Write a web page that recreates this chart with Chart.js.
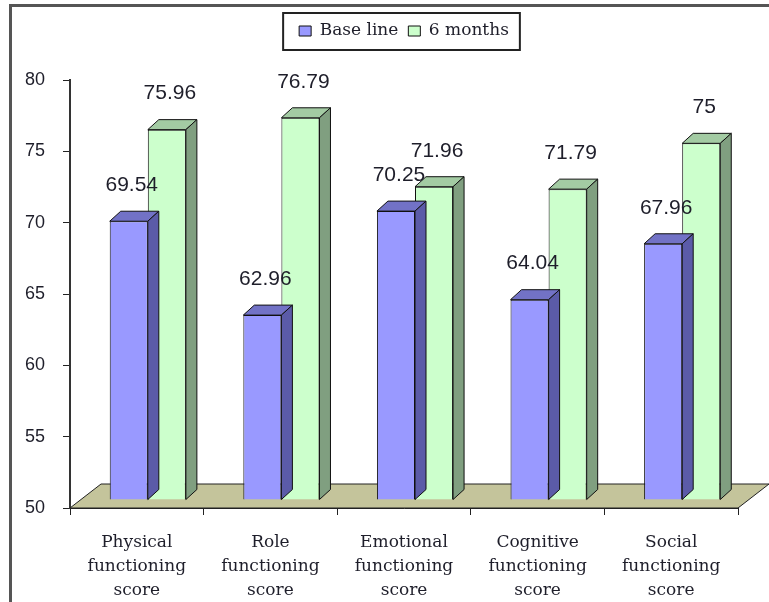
<!DOCTYPE html>
<html>
<head>
<meta charset="utf-8">
<script src="https://cdn.jsdelivr.net/npm/chart.js@4.4.0/dist/chart.umd.min.js"></script>
<style>
    body { margin: 0; background: #fff; }
</style>
</head>
<body>
<canvas id="chartContainer" width="769" height="602"></canvas>
<script>
// chart data
const categories = [
    ['Physical', 'functioning', 'score'],
    ['Role', 'functioning', 'score'],
    ['Emotional', 'functioning', 'score'],
    ['Cognitive', 'functioning', 'score'],
    ['Social', 'functioning', 'score']
];
const seriesNames = ['Base line', '6 months'];
const baseLine = [69.54, 62.96, 70.25, 64.04, 67.96];
const sixMonths = [75.96, 76.79, 71.96, 71.79, 75];
const yMin = 50;
const yMax = 80;
const yStep = 5;

// fake 3d look
const DEPTH_X = 11, DEPTH_Y = 10;     // bar depth
const SHIFT_X = 11, SHIFT_Y = -8;     // bars stand a bit back on the floor
const FLOOR_X = 31, FLOOR_Y = 24;     // floor depth
const faces = [
    { top: '#7272c6', side: '#5b5ba8' },
    { top: '#a3cba3', side: '#809f80' }
];
const textColor = '#1e1e2a';

const threeD = {
    id: 'threeD',
    beforeDraw(chart) {
        // outer frame (left + top)
        const ctx = chart.ctx;
        ctx.save();
        ctx.strokeStyle = '#555';
        ctx.lineWidth = 3;
        ctx.beginPath();
        ctx.moveTo(10.5, chart.height);
        ctx.lineTo(10.5, 5.5);
        ctx.lineTo(chart.width, 5.5);
        ctx.stroke();
        ctx.restore();
    },
    beforeDatasetsDraw(chart) {
        const ctx = chart.ctx;
        const a = chart.chartArea;
        ctx.save();
        ctx.beginPath();
        ctx.moveTo(a.left, a.bottom);
        ctx.lineTo(a.right, a.bottom);
        ctx.lineTo(a.right + FLOOR_X, a.bottom - FLOOR_Y);
        ctx.lineTo(a.left + FLOOR_X, a.bottom - FLOOR_Y);
        ctx.closePath();
        ctx.fillStyle = '#c4c49b';
        ctx.fill();
        ctx.strokeStyle = '#222';
        ctx.lineWidth = 1;
        ctx.stroke();
        ctx.restore();

        ctx.save();
        ctx.translate(SHIFT_X, SHIFT_Y);
    },
    afterDatasetDraw(chart, args) {
        const ctx = chart.ctx;
        const f = faces[args.index];
        ctx.save();
        ctx.lineWidth = 1;
        ctx.strokeStyle = '#111';
        args.meta.data.forEach(bar => {
            const p = bar.getProps(['x', 'y', 'base', 'width'], true);
            const l = p.x - p.width / 2, r = p.x + p.width / 2;
            // top
            ctx.beginPath();
            ctx.moveTo(l, p.y);
            ctx.lineTo(r, p.y);
            ctx.lineTo(r + DEPTH_X, p.y - DEPTH_Y);
            ctx.lineTo(l + DEPTH_X, p.y - DEPTH_Y);
            ctx.closePath();
            ctx.fillStyle = f.top;
            ctx.fill();
            ctx.stroke();
            // side
            ctx.beginPath();
            ctx.moveTo(r, p.y);
            ctx.lineTo(r + DEPTH_X, p.y - DEPTH_Y);
            ctx.lineTo(r + DEPTH_X, p.base - DEPTH_Y);
            ctx.lineTo(r, p.base);
            ctx.closePath();
            ctx.fillStyle = f.side;
            ctx.fill();
            ctx.stroke();
        });
        ctx.restore();
    },
    afterDatasetsDraw(chart) {
        const ctx = chart.ctx;
        // value labels
        ctx.save();
        ctx.font = '21px "Liberation Sans"';
        ctx.fillStyle = textColor;
        ctx.textAlign = 'center';
        ctx.textBaseline = 'middle';
        chart.data.datasets.forEach((ds, i) => {
            chart.getDatasetMeta(i).data.forEach((bar, j) => {
                ctx.fillText(String(ds.data[j]), bar.x + 3, bar.y - 36);
            });
        });
        ctx.restore();
        ctx.restore(); // undo translate
    },
    afterDraw(chart) {
        // box round the legend
        const hb = chart.legend.legendHitBoxes;
        if (!hb || !hb.length) return;
        const first = hb[0], last = hb[hb.length - 1];
        const cy = first.top + first.height / 2;
        const ctx = chart.ctx;
        ctx.save();
        ctx.strokeStyle = '#222';
        ctx.lineWidth = 2;
        ctx.strokeRect(first.left - 16, cy - 18, last.left + last.width - first.left + 27, 37);
        ctx.restore();
    }
};

var ctx = document.getElementById('chartContainer').getContext('2d');

window.myBarChart = new Chart(ctx, {
    type: 'bar',
    data: {
        labels: categories,
        datasets: [{
            label: seriesNames[0],
            data: baseLine,
            backgroundColor: '#9999ff',
            borderColor: '#111',
            borderWidth: 1,
            base: yMin,
            clip: false
        }, {
            label: seriesNames[1],
            data: sixMonths,
            backgroundColor: '#ccffcc',
            borderColor: '#111',
            borderWidth: 1,
            base: yMin,
            clip: false
        }]
    },
    options: {
        responsive: false,
        animation: false,
        layout: {
            padding: { top: 12.5, left: 10, right: 31, bottom: 0 }
        },
        datasets: {
            bar: {
                categoryPercentage: 0.57,
                barPercentage: 1,
                borderSkipped: 'start'
            }
        },
        scales: {
            x: {
                afterFit(scale) { scale.height = 94; },
                grid: {
                    drawOnChartArea: false,
                    tickLength: 7,
                    color: '#222'
                },
                border: { color: '#222', width: 1 },
                ticks: {
                    color: textColor,
                    padding: 16,
                    maxRotation: 0,
                    autoSkip: false,
                    font: { family: '"DejaVu Serif"', size: 17, lineHeight: 1.4 }
                }
            },
            y: {
                min: yMin,
                max: yMax,
                afterFit(scale) { scale.width = 60; },
                grid: {
                    drawOnChartArea: false,
                    tickLength: 7,
                    color: '#222'
                },
                border: { color: '#333', width: 2 },
                ticks: {
                    stepSize: yStep,
                    color: textColor,
                    padding: 18,
                    font: { family: '"Liberation Sans"', size: 18 }
                }
            }
        },
        plugins: {
            legend: {
                position: 'top',
                fullSize: false,
                labels: {
                    boxWidth: 12,
                    boxHeight: 10,
                    padding: 10,
                    color: textColor,
                    font: { family: '"DejaVu Serif"', size: 17 }
                }
            },
            // empty title used as a spacer between legend and plot
            title: {
                display: true,
                text: '',
                weight: 500,
                padding: { top: 0, bottom: 20.5 },
                font: { size: 10, lineHeight: 1 }
            },
            tooltip: { enabled: false }
        }
    },
    plugins: [threeD]
});
</script>
</body>
</html>
